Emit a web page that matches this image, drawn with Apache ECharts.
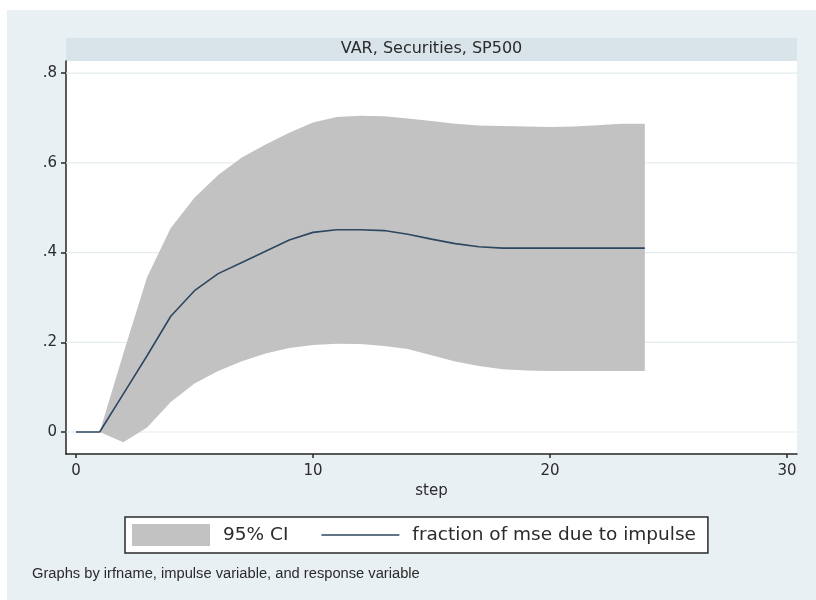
<!DOCTYPE html>
<html>
<head>
<meta charset="utf-8">
<title>VAR, Securities, SP500</title>
<script src="https://cdn.jsdelivr.net/npm/echarts@6/dist/echarts.min.js"></script>
<style>
  html, body { margin: 0; padding: 0; background: #ffffff; }
  #chart { width: 816px; height: 600px; }
</style>
</head>
<body>
<div id="chart"></div>
<script>
// Forecast-error variance decomposition: impulse -> SP500, with 95% band
const steps = [0, 1, 2, 3, 4, 5, 6, 7, 8, 9, 10, 11, 12, 13, 14, 15, 16, 17, 18, 19, 20, 21, 22, 23, 24];
const fevd  = [0, 0, 0.085, 0.170, 0.258, 0.315, 0.353, 0.378, 0.403, 0.428, 0.445, 0.451, 0.451, 0.449, 0.441, 0.430, 0.420, 0.413, 0.410, 0.410, 0.410, 0.410, 0.410, 0.410, 0.410];
const ciUpper = [0, 0, 0.175, 0.345, 0.455, 0.522, 0.573, 0.612, 0.641, 0.667, 0.690, 0.702, 0.705, 0.704, 0.699, 0.693, 0.687, 0.683, 0.682, 0.681, 0.680, 0.681, 0.684, 0.687, 0.687];
const ciLower = [0, 0, -0.023, 0.010, 0.067, 0.108, 0.136, 0.158, 0.175, 0.187, 0.194, 0.197, 0.196, 0.192, 0.185, 0.171, 0.157, 0.147, 0.140, 0.137, 0.136, 0.136, 0.136, 0.136, 0.136];

const xTicks = [0, 10, 20, 30];
const yTicks = [0, 0.2, 0.4, 0.6, 0.8];

const panelTitle = 'VAR, Securities, SP500';
const bandName = '95% CI';
const lineName = 'fraction of mse due to impulse';
const note = 'Graphs by irfname, impulse variable, and response variable';

const FONT = '"DejaVu Sans", Verdana, sans-serif';
const TEXT = '#2b2b2b';
const AXIS = '#262626';
const BAND = '#c2c2c2';
const LINE = '#2c475f';
const X_MIN = -0.42, X_MAX = 30.42;

const chart = echarts.init(document.getElementById('chart'), null, { renderer: 'canvas' });

const fmtY = v => (v === 0 ? '0' : String(+v.toFixed(1)).replace(/^0/, '').replace(/^-0/, '-'));

chart.setOption({
  animation: false,
  backgroundColor: '#ffffff',
  textStyle: { fontFamily: FONT, color: TEXT },
  graphic: [
    { type: 'rect', z: -10, silent: true,
      shape: { x: 7, y: 10, width: 809, height: 590 },
      style: { fill: '#e9f0f3' } },
    { type: 'rect', z: -9, silent: true,
      shape: { x: 66, y: 38, width: 731, height: 23 },
      style: { fill: '#d8e3ea' } },
    { type: 'text', z: 5, silent: true,
      x: 431.5, y: 48.5,
      style: { text: panelTitle, font: '16px ' + FONT, fill: TEXT,
               textAlign: 'center', textVerticalAlign: 'middle' } },
    { type: 'text', z: 5, silent: true,
      x: 32, y: 574,
      style: { text: note, font: '14.7px "Liberation Sans", Arial, sans-serif', fill: TEXT,
               textAlign: 'left', textVerticalAlign: 'middle' } }
  ],
  grid: {
    left: 66, right: 19, top: 61, bottom: 146,
    show: true, backgroundColor: '#ffffff', borderWidth: 0,
    containLabel: false
  },
  legend: {
    left: 125, top: 517,
    orient: 'horizontal',
    backgroundColor: '#ffffff',
    borderColor: '#2a2a2a', borderWidth: 1.5, borderRadius: 0,
    padding: [7, 12, 7, 7],
    itemWidth: 78, itemHeight: 22, itemGap: 33,
    symbolKeepAspect: true,
    textStyle: { fontFamily: FONT, fontSize: 18.5, color: TEXT, padding: [0, 0, 0, 8] },
    selectedMode: false,
    data: [
      { name: bandName, icon: 'rect', itemStyle: { color: BAND } },
      { name: lineName, icon: 'path://M0,10 L78,10 L78,11.6 L0,11.6 Z', itemStyle: { color: LINE } }
    ]
  },
  xAxis: {
    type: 'value',
    min: X_MIN, max: X_MAX,
    name: 'step', nameLocation: 'middle', nameGap: 30,
    nameTextStyle: { fontFamily: FONT, fontSize: 15, color: TEXT },
    axisLine: { show: true, onZero: false, lineStyle: { color: AXIS, width: 1.5 } },
    axisTick: { show: true, length: 4, customValues: xTicks, lineStyle: { color: AXIS, width: 1.5 } },
    axisLabel: { show: true, customValues: xTicks, margin: 10, fontSize: 15, color: TEXT, fontFamily: FONT },
    splitLine: { show: false }
  },
  yAxis: {
    type: 'value',
    min: -0.049, max: 0.827,
    axisLine: { show: true, onZero: false, lineStyle: { color: AXIS, width: 1.5 } },
    axisTick: { show: true, length: 5, customValues: yTicks, lineStyle: { color: AXIS, width: 1.5 } },
    axisLabel: { show: true, customValues: yTicks, margin: 9, fontSize: 15, color: TEXT, fontFamily: FONT,
                 formatter: fmtY },
    splitLine: { show: false }
  },
  series: [
    {
      // horizontal reference lines at the labelled y values, under the band
      type: 'custom', name: 'gridlines', z: 1, silent: true,
      encode: { y: 0 },
      data: yTicks.map(v => [v]),
      renderItem: function (params, api) {
        const v = api.value(0);
        const a = api.coord([X_MIN, v]);
        const b = api.coord([X_MAX, v]);
        return {
          type: 'line',
          shape: { x1: a[0], y1: a[1], x2: b[0], y2: b[1] },
          style: { stroke: '#e6edf0', lineWidth: 1.2 }
        };
      }
    },
    {
      // confidence band: upper bound forward, lower bound back
      type: 'custom', name: bandName, z: 2, silent: true,
      itemStyle: { color: BAND },
      encode: { x: 0, y: [1, 2] },
      data: steps.map((s, i) => [s, ciLower[i], ciUpper[i]]),
      renderItem: function (params, api) {
        if (params.dataIndex !== 0) return null;
        const pts = [];
        for (let i = 0; i < steps.length; i++) pts.push(api.coord([steps[i], ciUpper[i]]));
        for (let i = steps.length - 1; i >= 0; i--) pts.push(api.coord([steps[i], ciLower[i]]));
        return {
          type: 'polygon',
          shape: { points: pts },
          style: { fill: BAND, stroke: null }
        };
      }
    },
    {
      type: 'line', name: lineName, z: 3,
      data: steps.map((s, i) => [s, fevd[i]]),
      symbol: 'none', smooth: false,
      itemStyle: { color: LINE },
      lineStyle: { color: LINE, width: 1.6 }
    }
  ]
});
</script>
</body>
</html>
